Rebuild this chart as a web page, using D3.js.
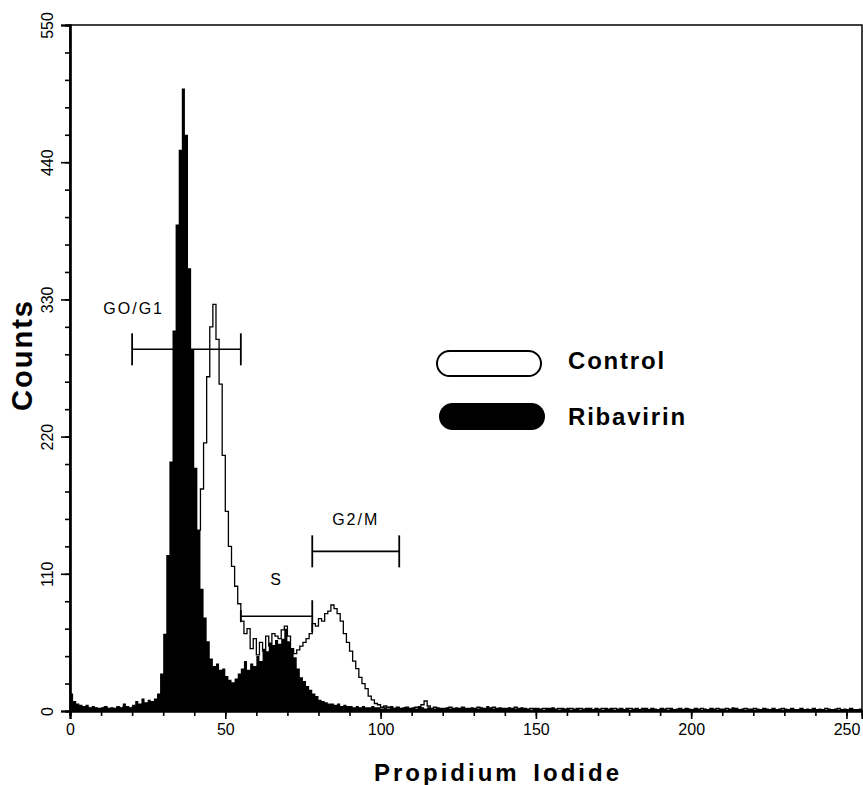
<!DOCTYPE html>
<html><head><meta charset="utf-8">
<script src="https://cdn.jsdelivr.net/npm/d3@7/dist/d3.min.js"></script>
<style>body{margin:0;background:#fff}svg{display:block}text{font-family:"Liberation Sans",Arial,Helvetica,sans-serif;fill:#000}</style>
</head><body>
<svg id="c" width="863" height="785"></svg>
<script>
// Channel counts (channel 0..255)
const ribavirin = [
14,8,6,5,4,5,3,4,3,2,
3,4,2,3,2,4,3,6,4,3,
5,8,6,10,7,9,8,10,14,30,
62,125,200,305,390,450,499,462,355,290,
195,145,98,75,56,42,36,38,33,34,
28,25,23,26,30,34,40,33,38,36,
44,40,50,48,55,53,57,54,58,66,
56,50,43,34,27,24,20,17,14,12,
9,8,7,6,6,5,6,4,5,4,
4,3,4,3,4,3,3,4,3,3,
2,3,2,4,2,3,2,3,3,2,
3,2,4,3,2,3,2,2,3,2,
2,3,2,2,3,2,3,2,2,3,
2,2,3,2,4,3,2,2,3,2,
2,3,2,2,2,3,2,2,1,2,
2,2,1,2,2,3,2,1,2,2,
2,1,2,2,1,2,2,2,1,2,
2,1,2,2,2,1,2,2,1,2,
1,2,2,1,2,2,1,2,2,1,
2,2,1,2,1,2,2,1,2,2,
1,2,2,1,2,1,2,2,1,2,
2,1,2,3,2,1,2,1,2,2,
1,2,1,2,2,1,2,1,2,1,
2,1,2,1,1,2,1,2,1,2,
1,2,1,1,2,1,2,1,1,2,
1,2,1,1,2,1];
const control = [
6,4,3,3,2,3,2,2,2,2,
2,3,2,2,2,3,2,3,3,2,
3,4,3,5,4,5,5,6,8,10,
15,24,38,52,66,80,92,104,114,125,
134,145,178,215,268,308,326,298,262,205,
160,132,116,100,86,72,62,66,50,58,
45,55,48,60,52,62,60,58,65,68,
60,50,46,49,52,55,58,62,70,68,
74,72,78,80,85,82,78,72,62,55,
48,40,34,27,22,18,12,9,6,5,
3,4,3,3,2,3,2,2,3,2,
2,3,3,5,8,4,2,3,2,2,
2,2,3,2,2,2,3,2,2,2,
2,3,2,2,2,2,3,2,2,2,
2,2,2,3,2,2,2,1,2,2,
2,1,2,2,2,2,1,2,2,1,
2,2,1,2,2,1,2,2,1,2,
1,2,2,1,2,2,1,2,1,2,
2,1,2,1,2,2,1,2,1,1,
2,1,2,2,1,1,2,1,2,1,
1,2,1,2,1,1,2,1,2,1,
1,2,1,1,2,1,1,2,1,1,
2,1,1,2,1,1,2,1,1,2,
1,1,2,1,1,2,1,1,1,2,
1,1,1,2,1,1,1,2,1,1,
1,2,1,1,1,1];
const xMajorTicks = [0,50,100,150,200,250];
const yMajorTicks = [0,110,220,330,440,550];
const gates = [
  {label:"GO/G1", from:20, to:55, level:290, labelX:20.5, labelLevel:318, endTicks:[16,16]},
  {label:"S", from:55, to:78, level:76, labelX:66.5, labelLevel:101, endTicks:[6,16]},
  {label:"G2/M", from:78, to:106, level:128, labelX:92, labelLevel:149, endTicks:[16,16]}
];
const legend = [{name:"Control", filled:false},{name:"Ribavirin", filled:true}];

const svg = d3.select("#c");
const x = d3.scaleLinear().domain([0,255]).range([70,862]);
const y = d3.scaleLinear().domain([0,550]).range([711,25]);

// filled ribavirin histogram
const area = d3.area().curve(d3.curveStepAfter)
  .x((d,i)=>x(i)).y0(y(0)).y1(d=>y(d));
svg.append("path").datum(ribavirin).attr("d",area).attr("fill","#000");

// control outline
const line = d3.line().curve(d3.curveStepAfter).x((d,i)=>x(i)).y(d=>y(d));
svg.append("path").datum(control).attr("d",line)
  .attr("fill","none").attr("stroke","#000").attr("stroke-width",1.3);

// frame
svg.append("rect").attr("x",x(0)).attr("y",y(550)).attr("width",x(255)-x(0)).attr("height",y(0)-y(550))
  .attr("fill","none").attr("stroke","#000").attr("stroke-width",1.5);

// x axis
const xAxisMinor = d3.axisBottom(x).tickValues(d3.range(0,251,10)).tickSize(5).tickFormat("");
const xg1 = svg.append("g").attr("transform",`translate(0,${y(0)})`).call(xAxisMinor);
const xAxis = d3.axisBottom(x).tickValues(xMajorTicks).tickSize(8).tickPadding(5).tickFormat(d3.format("d"));
const xg = svg.append("g").attr("transform",`translate(0,${y(0)})`).call(xAxis);
[xg1,xg].forEach(g=>{g.select(".domain").attr("stroke-width",2.2);g.selectAll("line").attr("stroke-width",1.6);});
xg.selectAll("text").attr("font-size",16).attr("font-family","Liberation Sans, Arial, sans-serif");

// y axis
const yAxisMinor = d3.axisLeft(y).tickValues(d3.range(0,551,22)).tickSize(5).tickFormat("");
const yg1 = svg.append("g").attr("transform",`translate(${x(0)},0)`).call(yAxisMinor);
const yAxis = d3.axisLeft(y).tickValues(yMajorTicks).tickSize(9).tickFormat(d3.format("d"));
const yg = svg.append("g").attr("transform",`translate(${x(0)},0)`).call(yAxis);
[yg1,yg].forEach(g=>{g.select(".domain").attr("stroke-width",2.2);g.selectAll("line").attr("stroke-width",1.6);});
yg.selectAll("text").remove();
yg.selectAll(".tick").append("text")
  .attr("transform","translate(-17,0) rotate(-90)")
  .attr("text-anchor","middle").attr("font-size",16).attr("fill","#000")
  .attr("font-family","Liberation Sans, Arial, sans-serif")
  .text(d=>d);

// axis titles
svg.append("text").attr("transform",`translate(32,355) rotate(-90)`)
  .attr("text-anchor","middle").attr("font-size",29).attr("font-weight","bold")
  .attr("letter-spacing",2).text("Counts");
svg.append("text").attr("x",498).attr("y",781)
  .attr("text-anchor","middle").attr("font-size",24).attr("font-weight","bold")
  .attr("letter-spacing",3).attr("word-spacing",4).text("Propidium Iodide");

// gates
gates.forEach(g=>{
  const gy = y(g.level);
  svg.append("line").attr("x1",x(g.from)).attr("x2",x(g.to)).attr("y1",gy).attr("y2",gy)
    .attr("stroke","#000").attr("stroke-width",1.6);
  [g.from,g.to].forEach((v,k)=>{
    const h = g.endTicks[k];
    svg.append("line").attr("x1",x(v)).attr("x2",x(v)).attr("y1",gy-h).attr("y2",gy+h)
      .attr("stroke","#000").attr("stroke-width",1.8);
  });
  svg.append("text").attr("x",x(g.labelX)).attr("y",y(g.labelLevel))
    .attr("text-anchor","middle").attr("font-size",16).attr("letter-spacing",2).text(g.label);
});

// legend
legend.forEach((l,i)=>{
  const ly = 351 + i*53;
  svg.append("rect").attr("x",437+i*3).attr("y",ly).attr("width",104).attr("height",25)
    .attr("rx",12.5).attr("ry",12.5)
    .attr("fill",l.filled?"#000":"#fff").attr("stroke","#000").attr("stroke-width",2);
  svg.append("text").attr("x",568).attr("y",ly+18+i*3).attr("font-size",24).attr("font-weight","bold")
    .attr("letter-spacing",1.8).text(l.name);
});
</script>
</body></html>
